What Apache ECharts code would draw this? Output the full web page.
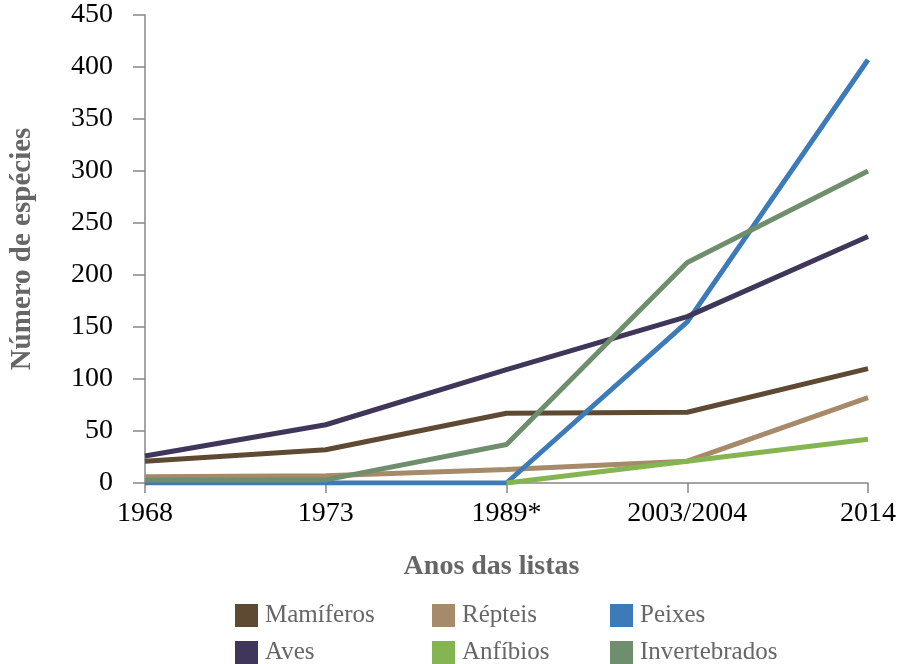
<!DOCTYPE html>
<html>
<head>
<meta charset="utf-8">
<script src="https://cdn.jsdelivr.net/npm/echarts@6/dist/echarts.min.js"></script>
<style>
html,body{margin:0;padding:0;background:#fff;}
#chart{width:911px;height:664px;}
</style>
</head>
<body>
<div id="chart"></div>
<script>
// anos das listas
var anos = ['1968', '1973', '1989*', '2003/2004', '2014'];
var mamiferos = [21, 32, 67, 68, 110];
var repteis = [6, 7, 13, 21, 82];
var peixes = [0, 0, 0, 155, 407];
var aves = [26, 56, 109, 160, 237];
var anfibios = ['-', '-', 0, 21, 42];
var invertebrados = [3, 3, 37, 212, 300];
var yTicks = [0, 450, 50];

var nomes = ['Mamíferos', 'Répteis', 'Peixes', 'Aves', 'Anfíbios', 'Invertebrados'];
var cores = ['#5e4a33', '#a68a6a', '#3d7ab8', '#40365a', '#85b553', '#6e8e6e'];
var dados = [mamiferos, repteis, peixes, aves, anfibios, invertebrados];
var legPos = [[235, 603], [432, 603], [610, 603], [235, 640], [432, 640], [610, 640]];

var fonte = '"Liberation Serif", "DejaVu Serif", serif';
var myChart = echarts.init(document.getElementById('chart'));

var series = [];
var legends = [];
nomes.forEach(function (n, i) {
	series.push({
		name: n,
		type: 'line',
		data: dados[i],
		showSymbol: false,
		symbol: 'none',
		lineStyle: {width: 5, color: cores[i]},
		itemStyle: {color: cores[i]},
		z: 2 + i
	});
	legends.push({
		data: [n],
		left: legPos[i][0],
		top: legPos[i][1],
		padding: 0,
		icon: 'rect',
		itemWidth: 23,
		itemHeight: 23,
		itemGap: 0,
		textStyle: {fontFamily: fonte, fontSize: 25, color: '#666', padding: [0, 0, 0, 2]}
	});
});

var option = {
	animation: false,
	grid: {left: 141, right: 43, top: 15, bottom: 181, containLabel: false},
	legend: legends,
	xAxis: {
		type: 'category',
		data: anos,
		boundaryGap: false,
		name: 'Anos das listas',
		nameLocation: 'middle',
		nameGap: 70,
		nameTextStyle: {fontFamily: fonte, fontSize: 28, fontWeight: 'bold', color: '#666', padding: [0, 30, 0, 0]},
		axisLine: {lineStyle: {color: '#888', width: 1.5}},
		axisTick: {show: true, length: 10, lineStyle: {color: '#888', width: 1.5}},
		axisLabel: {fontFamily: fonte, fontSize: 28, color: '#000', margin: 17}
	},
	yAxis: {
		type: 'value',
		min: yTicks[0],
		max: yTicks[1],
		interval: yTicks[2],
		name: 'Número de espécies',
		nameLocation: 'middle',
		nameGap: 108,
		nameTextStyle: {fontFamily: fonte, fontSize: 29, fontWeight: 'bold', color: '#666'},
		axisLine: {show: true, lineStyle: {color: '#888', width: 1.5}},
		axisTick: {show: true, length: 12, lineStyle: {color: '#888', width: 1.5}},
		splitLine: {show: false},
		axisLabel: {fontFamily: fonte, fontSize: 28, color: '#000', margin: 32}
	},
	series: series
};
myChart.setOption(option);
</script>
</body>
</html>
